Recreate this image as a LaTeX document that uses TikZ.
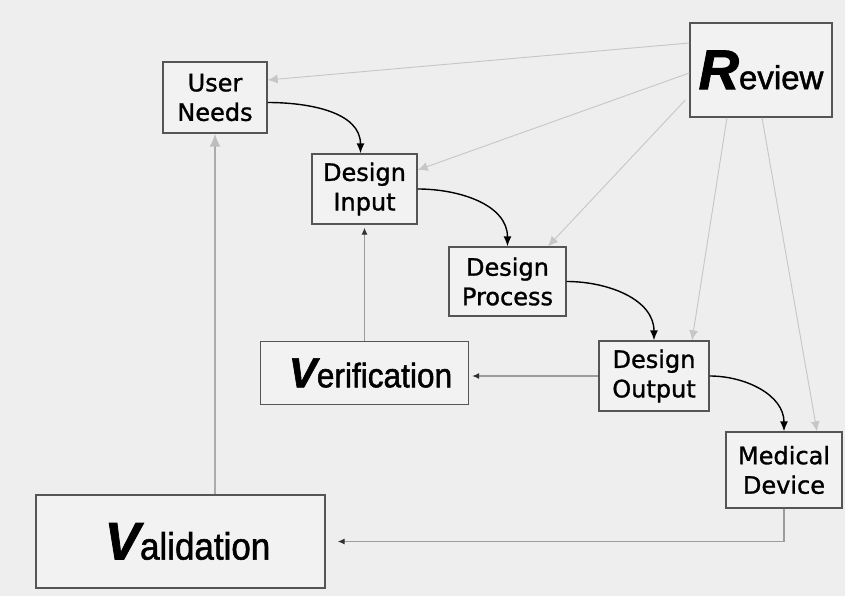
\documentclass[tikz,border=0pt]{standalone}
\usepackage{fontspec}
\setmainfont{DejaVu Sans}[FakeBold=1.2]
\newfontfamily\arialfont{Liberation Sans}[FakeBold=1.5]
\usepackage{tikz}
\usetikzlibrary{positioning,calc}
\usetikzlibrary{arrows,arrows.meta,shapes}
\definecolor{paper}{HTML}{EEEEEE}
\definecolor{boxfill}{HTML}{F2F2F2}
\definecolor{boxline}{HTML}{555555}
\definecolor{revgray}{HTML}{C6C6C6}
\definecolor{linegray}{HTML}{9C9C9C}
\definecolor{tipdark}{HTML}{303030}
\definecolor{validgray}{HTML}{ABABAB}
\definecolor{validtip}{HTML}{BDBDBD}
\tikzstyle{block} = [rectangle,draw=boxline,fill=boxfill,line width=1.3pt,align=center,inner sep=0pt,font=\fontsize{24}{29.5}\selectfont]
\tikzstyle{bigblock} = [block,font=\arialfont]
\tikzstyle{line} = [-{Latex[length=10pt,width=8pt]},line width=1.4pt,black]
\tikzstyle{check} = [-{Latex[length=7pt,width=6pt,color=tipdark]},line width=1.3pt,draw=linegray,shorten >=3pt]
\tikzstyle{review} = [-{Latex[length=10pt,width=9pt]},line width=0.9pt,draw=revgray]
\tikzstyle{valid} = [-{Latex[length=13pt,width=11pt,color=validtip]},line width=2pt,draw=validgray]
\newcommand{\bigletter}[2]{{\fontsize{#1}{#1}\selectfont\bfseries\itshape #2}}

\begin{document}
\begin{tikzpicture}[x=1pt,y=1pt]
    \useasboundingbox[fill=paper] (0,0) rectangle (845,-596);
    % design chain
    \node[block,minimum width=104pt,minimum height=71pt] (needs) at (215,-97.5) {User\\Needs};
    \node[block,minimum width=105pt,minimum height=70pt] (input) at (364.5,-189) {Design\\Input};
    \node[block,minimum width=117pt,minimum height=69pt] (process) at (507.5,-281.5) {Design\\Process};
    \node[block,minimum width=110pt,minimum height=70pt] (output) at (654,-376) {Design\\Output};
    \node[block,minimum width=116pt,minimum height=76pt] (device) at (784,-470) {Medical\\Device};
    % checks
    \node[bigblock,minimum width=142pt,minimum height=94pt] (review) at (761,-70)
        {\bigletter{56}{R}\fontsize{33}{36}\selectfont eview};
    \node[bigblock,minimum width=208pt,minimum height=63pt] (verif) at (364.5,-373)
        {\hspace{12pt}\bigletter{42}{V}\scalebox{0.93}[1]{\fontsize{34}{36}\selectfont erification}};
    \node[bigblock,minimum width=289pt,minimum height=93pt] (valid) at (180.5,-541.5)
        {\hspace{14pt}\bigletter{53}{V}\scalebox{0.92}[1]{\fontsize{38}{40}\selectfont alidation}};

    \path[line] ($(needs.east)+(0,-5)$) edge[out=0,in=90] ($(input.north)+(-4,0)$);
    \path[line] (input.east) edge[out=0,in=90] (process.north);
    \path[line] (process.east) edge[out=0,in=90] (output.north);
    \path[line] (output.east) edge[out=0,in=90] (device.north);

    \draw[check] (output.west) -- (output.west -| verif.east);
    \draw[check] (verif.north) -- (input.south);
    \draw[check,shorten >=12pt] (device.south) |- (valid.east);
    \draw[valid] (needs.south |- valid.north) -- (needs.south);

    \draw[review] ($(review.west)+(0,27)$) -- ($(needs.east)+(0,17.5)$);
    \draw[review] ($(review.west)+(0,-3)$) -- ($(input.east)+(0,19)$);
    \draw[review] ($(review.west)+(-4,-30)$) -- ($(process.north)+(40.5,0)$);
    \draw[review] ($(review.south)+(-34,0)$) -- ($(output.north)+(38,0)$);
    \draw[review] ($(review.south)+(1,0)$) -- ($(device.north)+(33,0)$);
\end{tikzpicture}
\end{document}
